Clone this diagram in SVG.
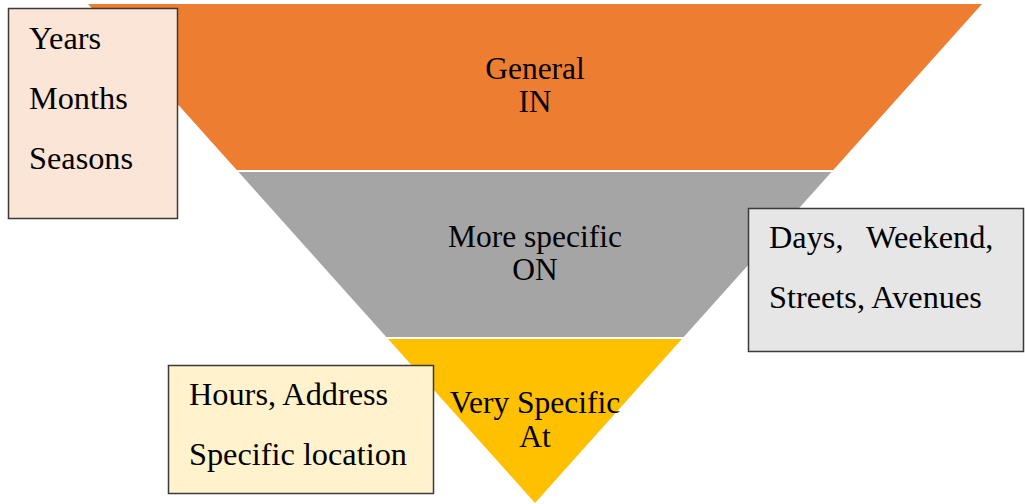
<svg xmlns="http://www.w3.org/2000/svg" width="1025" height="504" viewBox="0 0 1025 504">
<style>
text{font-family:'Liberation Serif','Times New Roman','DejaVu Serif',serif;font-size:32.3px;fill:#000}
.c{text-anchor:middle;font-size:31.5px}
.box{stroke:#3a3a3a;stroke-width:1.5}
</style>
<rect width="1025" height="504" fill="#fff"/>
<g id="level-in">
<polygon points="88,4 982,4 833.3,170 236.7,170" fill="#ED7D31"/>
<text class="c" x="535" y="79">General</text>
<text class="c" x="535" y="112">IN</text>
</g>
<g id="level-on">
<polygon points="238.5,172 831.5,172 683.7,337 386.3,337" fill="#A5A5A5"/>
<text class="c" x="535" y="247">More specific</text>
<text class="c" x="535" y="280">ON</text>
</g>
<g id="level-at">
<polygon points="388.1,339 681.9,339 535,503" fill="#FFC000"/>
<text class="c" x="535" y="413">Very Specific</text>
<text class="c" x="535" y="447">At</text>
</g>
<g id="box-in">
<rect class="box" x="8.5" y="8.5" width="169" height="210" fill="#FBE5D6"/>
<text x="29" y="49">Years</text>
<text x="29" y="109">Months</text>
<text x="29" y="169">Seasons</text>
</g>
<g id="box-on">
<rect class="box" x="748.5" y="208.5" width="275" height="143" fill="#E7E6E6"/>
<text x="769" y="248">Days,</text>
<text x="866" y="248">Weekend,</text>
<text x="769" y="308">Streets, Avenues</text>
</g>
<g id="box-at">
<rect class="box" x="168.5" y="365.5" width="265" height="128" fill="#FFF2CC"/>
<text x="189" y="405">Hours, Address</text>
<text x="189" y="465">Specific location</text>
</g>
<g id="connectors"></g>
</svg>
